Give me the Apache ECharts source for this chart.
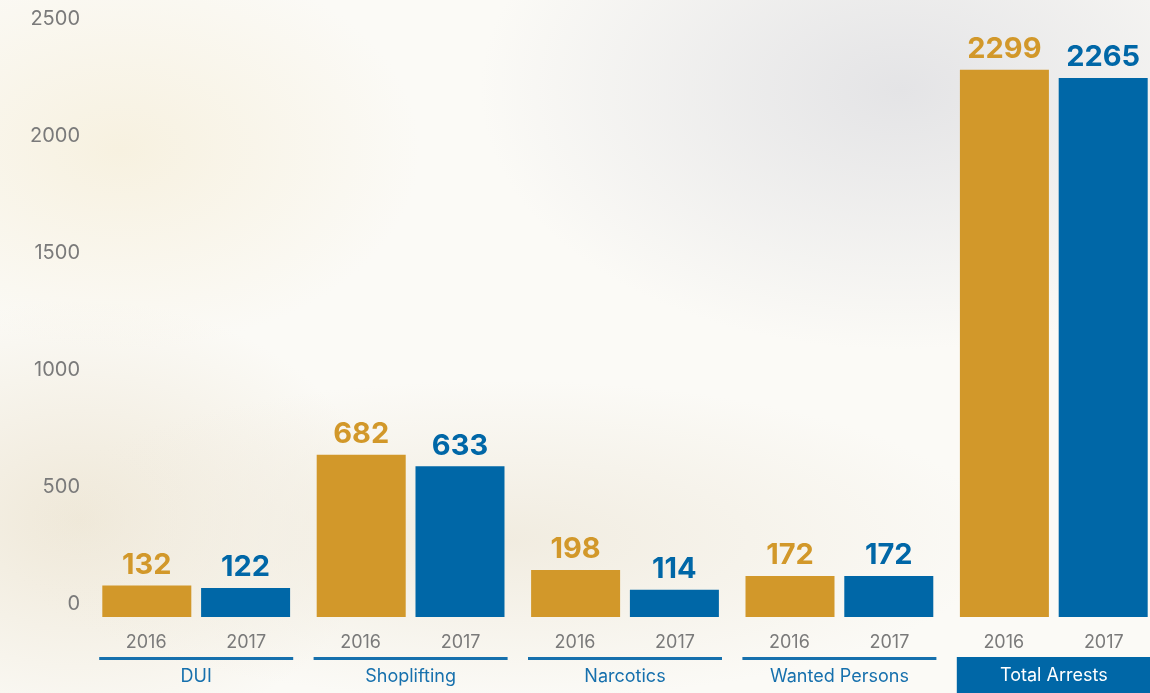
<!DOCTYPE html>
<html>
<head>
<meta charset="utf-8">
<script src="https://cdn.jsdelivr.net/npm/echarts@6/dist/echarts.min.js"></script>
<style>
  html, body { margin: 0; padding: 0; }
  body {
    width: 1150px; height: 693px; overflow: hidden;
    background:
      radial-gradient(ellipse 420px 260px at 900px 90px, #e4e4e6 0%, rgba(228,228,230,0) 100%),
      radial-gradient(ellipse 300px 200px at 120px 150px, #f7f1e0 0%, rgba(247,241,224,0) 100%),
      radial-gradient(ellipse 500px 160px at 500px 540px, #f1ece0 0%, rgba(241,236,224,0) 100%),
      radial-gradient(ellipse 300px 220px at 80px 520px, #efe8d8 0%, rgba(239,232,216,0) 100%),
      #fbfaf6;
  }
  #main { width: 1150px; height: 693px; }
</style>
</head>
<body>
<div id="main"></div>
<script>
// 数据
var categories = ['DUI', 'Shoplifting', 'Narcotics', 'Wanted Persons', 'Total Arrests'];
var years = ['2016', '2017'];
var values2016 = [132, 682, 198, 172, 2299];
var values2017 = [122, 633, 114, 172, 2265];
var yMax = 2500;
var yStep = 500;

var gold = '#d2982a';
var blue = '#0067a7';
var font = 'Inter';

var chart = echarts.init(document.getElementById('main'), null, { renderer: 'canvas' });

var option = {
    backgroundColor: 'transparent',
    textStyle: { fontFamily: font },
    grid: [
        { left: 89, width: 1072, top: 22, bottom: 76, outerBoundsMode: 'none', containLabel: false },  // bars
        { left: 89, width: 1072, top: 19, bottom: 89, outerBoundsMode: 'none', containLabel: false }   // y labels only
    ],
    xAxis: [{
        type: 'category',
        gridIndex: 0,
        data: categories,
        axisLine: { show: false },
        axisTick: { show: false },
        axisLabel: {
            interval: 0,
            margin: 12,
            formatter: function (v) {
                var top = '{y|' + years[0] + '}{y|' + years[1] + '}';
                if (v === 'Total Arrests') {
                    return top + '\n{tot|' + v + '}';
                }
                return top + '\n{line| }\n{cat|' + v + '}';
            },
            rich: {
                y: { width: 100, align: 'center', fontSize: 18, color: '#7a7a7a', lineHeight: 28, fontFamily: font },
                line: { width: 194, height: 3, lineHeight: 3, fontSize: 1, backgroundColor: '#1670ad', align: 'center' },
                cat: { width: 194, align: 'center', fontSize: 18, color: '#1670ad', lineHeight: 34, fontFamily: font },
                tot: { width: 194, height: 37, lineHeight: 37, align: 'center', fontSize: 18, color: '#ffffff', backgroundColor: '#0067a7', fontFamily: font }
            }
        }
    }, {
        type: 'category',
        gridIndex: 1,
        data: categories,
        show: false
    }],
    yAxis: [{
        type: 'value',
        gridIndex: 0,
        min: 0,
        max: yMax,
        interval: yStep,
        show: false
    }, {
        type: 'value',
        gridIndex: 1,
        min: 0,
        max: yMax,
        interval: yStep,
        axisLine: { show: false },
        axisTick: { show: false },
        splitLine: { show: false },
        axisLabel: {
            fontSize: 20, color: '#7a7a7a', margin: 9, fontFamily: font,
            formatter: function (v) { return String(v); }
        }
    }],
    series: [{
        name: years[0],
        type: 'bar',
        data: values2016,
        barWidth: 89,
        barGap: '11%',
        itemStyle: { color: gold },
        label: {
            show: true,
            position: 'top',
            distance: 6,
            color: gold,
            fontSize: 29,
            fontWeight: 'bold',
            fontFamily: font
        }
    }, {
        name: years[1],
        type: 'bar',
        data: values2017,
        barWidth: 89,
        itemStyle: { color: blue },
        label: {
            show: true,
            position: 'top',
            distance: 6,
            color: blue,
            fontSize: 29,
            fontWeight: 'bold',
            fontFamily: font
        }
    }]
};

chart.setOption(option);
</script>
</body>
</html>
